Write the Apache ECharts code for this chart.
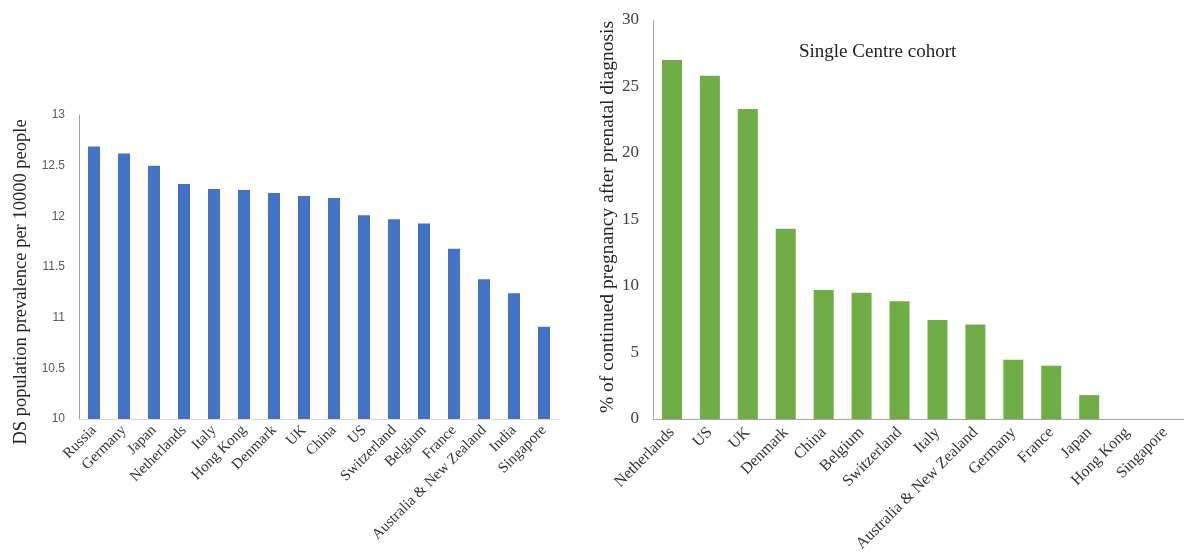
<!DOCTYPE html>
<html>
<head>
<meta charset="utf-8">
<script src="https://cdn.jsdelivr.net/npm/echarts@6/dist/echarts.min.js"></script>
<style>html,body{margin:0;padding:0;background:#fff;}#chart{width:1184px;height:560px;}</style>
</head>
<body>
<div id="chart"></div>
<script>
const leftCategories = ['Russia','Germany','Japan','Netherlands','Italy','Hong Kong','Denmark','UK','China','US','Switzerland','Belgium','France','Australia & New Zealand','India','Singapore'];
const leftValues = [12.69,12.62,12.50,12.32,12.27,12.26,12.23,12.20,12.18,12.01,11.97,11.93,11.68,11.38,11.24,10.91];
const rightCategories = ['Netherlands','US','UK','Denmark','China','Belgium','Switzerland','Italy','Australia & New Zealand','Germany','France','Japan','Hong Kong','Singapore'];
const rightValues = [27.0,25.8,23.3,14.3,9.7,9.5,8.85,7.45,7.1,4.45,4.0,1.8,0,0];
const leftTicks = [10,10.5,11,11.5,12,12.5,13];
const rightTicks = [0,5,10,15,20,25,30];
const leftTitle = 'DS population prevalence per 10000 people';
const rightTitle = '% of continued pregnancy after prenatal diagnosis';
const chartTitle = 'Single Centre cohort';

const serif = '"Liberation Serif","DejaVu Serif",serif';
const sans = '"Liberation Sans","DejaVu Sans",sans-serif';

const chart = echarts.init(document.getElementById('chart'));
chart.setOption({
  animation: false,
  backgroundColor: '#ffffff',
  title: {
    text: chartTitle,
    left: 794, top: 38,
    textStyle: {fontFamily: serif, fontSize: 19, fontWeight: 'normal', color: '#222'}
  },
  graphic: [
    {type: 'text', x: 21, y: 282, rotation: Math.PI / 2,
     style: {text: leftTitle, font: '18.5px ' + serif, fill: '#222', align: 'center', verticalAlign: 'middle'}},
    {type: 'text', x: 608, y: 217, rotation: Math.PI / 2,
     style: {text: rightTitle, font: '19.5px ' + serif, fill: '#222', align: 'center', verticalAlign: 'middle'}}
  ],
  grid: [
    {left: 79, right: 625, top: 115, bottom: 141},
    {left: 653, right: 0, top: 20, bottom: 141}
  ],
  xAxis: [
    {type: 'category', gridIndex: 0, data: leftCategories,
     axisLine: {lineStyle: {color: '#d9d9d9', width: 1}}, axisTick: {show: false},
     axisLabel: {interval: 0, rotate: 45, margin: 9, fontFamily: serif, fontSize: 15, color: '#333'}},
    {type: 'category', gridIndex: 1, data: rightCategories,
     axisLine: {lineStyle: {color: '#a6a6a6', width: 1}}, axisTick: {show: false},
     axisLabel: {interval: 0, rotate: 45, margin: 11, fontFamily: serif, fontSize: 16, color: '#333'}}
  ],
  yAxis: [
    {type: 'value', gridIndex: 0, min: leftTicks[0], max: leftTicks[leftTicks.length-1], interval: 0.5,
     axisLine: {show: true, lineStyle: {color: '#a0a0a0'}}, axisTick: {show: false},
     splitLine: {show: false},
     axisLabel: {margin: 14, fontFamily: sans, fontSize: 12, color: '#595959'}},
    {type: 'value', gridIndex: 1, min: rightTicks[0], max: rightTicks[rightTicks.length-1], interval: 5,
     axisLine: {show: true, lineStyle: {color: '#a6a6a6'}}, axisTick: {show: false},
     splitLine: {show: false},
     axisLabel: {margin: 14, fontFamily: serif, fontSize: 17, color: '#404040'}}
  ],
  series: [
    {type: 'bar', xAxisIndex: 0, yAxisIndex: 0, data: leftValues, barWidth: 12,
     itemStyle: {color: '#4472C4'}},
    {type: 'bar', xAxisIndex: 1, yAxisIndex: 1, data: rightValues, barWidth: 20,
     itemStyle: {color: '#70AD47'}}
  ]
});
</script>
</body>
</html>
